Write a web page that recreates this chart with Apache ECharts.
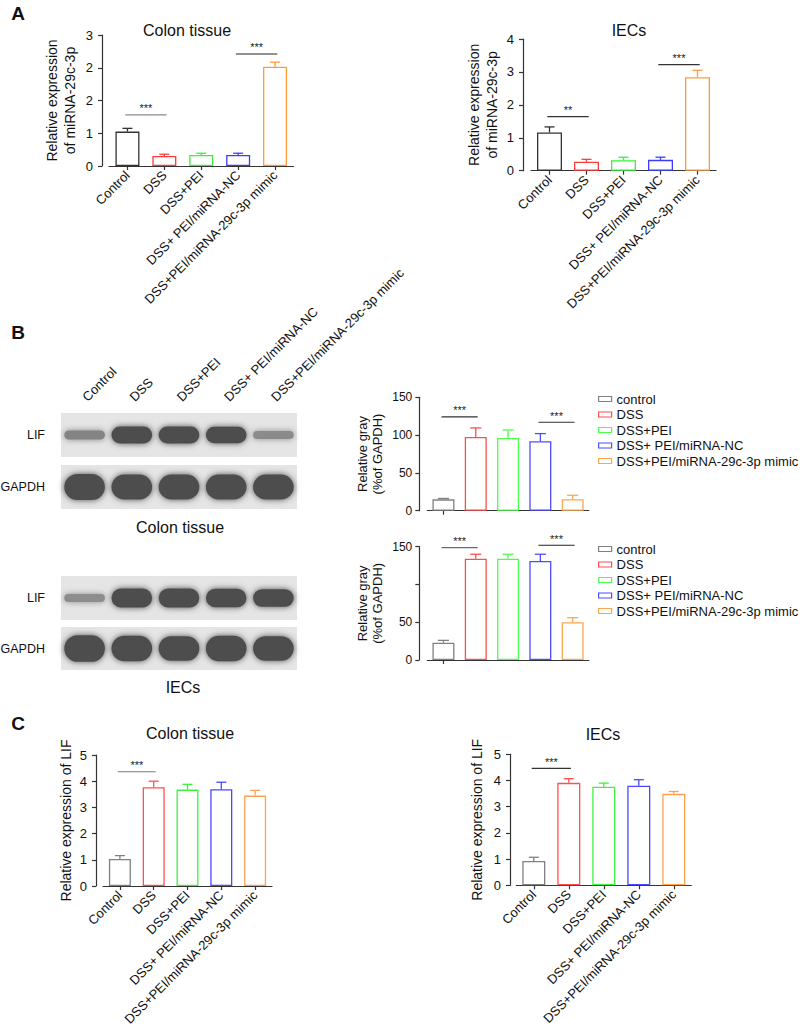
<!DOCTYPE html>
<html><head><meta charset="utf-8">
<script src="https://cdn.jsdelivr.net/npm/echarts@6/dist/echarts.min.js"></script>
<style>html,body{margin:0;padding:0;background:#fff}#c{width:800px;height:1031px}</style>
</head><body><div id="c"></div>
<script>
// ---------- data ----------
const groups = ['Control','DSS','DSS+PEI','DSS+ PEI/miRNA-NC','DSS+PEI/miRNA-29c-3p mimic'];
const legendNames = ['control','DSS','DSS+PEI','DSS+ PEI/miRNA-NC','DSS+PEI/miRNA-29c-3p mimic'];

// A: miRNA-29c-3p
const miColonMean = [1.05, 0.305, 0.335, 0.335, 3.03];
const miColonSD   = [0.10, 0.055, 0.055, 0.055, 0.14];
const miColonTicks = ['0','1','2','2','3'];
const miIECMean = [1.16, 0.27, 0.32, 0.33, 2.84];
const miIECSD   = [0.17, 0.075, 0.09, 0.08, 0.21];
const miIECTicks = ['0','1','2','3','4'];

// B: relative gray
const grayColonMean = [15, 97.6, 96.2, 91.8, 15.1];
const grayColonSD   = [1.2, 11.9, 10.6, 10.2, 5.3];
const grayIECMean = [23, 134, 134, 131, 50];
const grayIECSD   = [3, 6, 6, 9, 6];
const grayTicksUpper = ['0','50','100','150'];
const grayTicksLower = ['0','50','','150'];

// C: LIF
const lifColonMean = [1.03, 3.77, 3.68, 3.69, 3.45];
const lifColonSD   = [0.13, 0.23, 0.20, 0.27, 0.20];
const lifIECMean = [0.93, 3.91, 3.76, 3.80, 3.49];
const lifIECSD   = [0.14, 0.16, 0.14, 0.23, 0.09];
const lifTicks = ['0','1','2','3','4','5'];

// significance: [from group, to group, level, label]
const sigMiColon = [[0,1,1.56,'***'],[3,4,3.42,'***']];
const sigMiIEC   = [[0,1,1.64,'**'],[3,4,3.22,'***']];
const sigGrayColon = [[0,1,124,'***'],[3,4,117,'***']];
const sigGrayIEC   = [[0,1,148.7,'***'],[3,4,151.9,'***']];
const sigLifColon = [[0,1,4.36,'***']];
const sigLifIEC   = [[0,1,4.46,'***']];

// western blot band densities (relative)
const blotColonLIF   = [0.17, 0.53, 0.53, 0.50, 0.13];
const blotColonGAPDH = [0.95, 0.90, 0.90, 0.90, 0.90];
const blotIECLIF     = [0.12, 0.62, 0.62, 0.60, 0.55];
const blotIECGAPDH   = [1.00, 0.95, 0.90, 0.95, 0.90];

// ---------- build ----------
const FONT = 'Liberation Sans, Arial, sans-serif';
const AX = '#333';
const palA = ['#333333','#ff3b3b','#3bef3b','#3b3bff','#ff9a3b'];
const palB = ['#808080','#ff4d4d','#4dff4d','#4d4dff','#ffa64d'];
const palC = ['#808080','#ff5050','#40f040','#4848ff','#ffa050'];

const grids=[], xAxes=[], yAxes=[], series=[], legends=[];

function addChart(cfg){
  const gi = grids.length;
  grids.push({left:cfg.left, top:cfg.top, width:cfg.width, height:cfg.height, outerBoundsMode:'none'});
  xAxes.push({
    gridIndex:gi, type:'category', data:groups, boundaryGap:true,
    axisLine:{show:true, lineStyle:{color:AX, width:1.2}},
    axisTick:{show:true, alignWithLabel:true, length:4, lineStyle:{color:AX, width:1.2}},
    splitLine:{show:false},
    axisLabel: cfg.xLabels ? {show:true, interval:0, rotate:45, margin:7, fontSize:13, color:'#111', fontFamily:FONT, hideOverlap:false} : {show:false}
  });
  yAxes.push({
    gridIndex:gi, type:'value', min:0, max:cfg.max, interval:cfg.interval, offset:cfg.offset,
    axisLine:{show:true, lineStyle:{color:AX, width:1.2}},
    axisTick:{show:true, length:4, lineStyle:{color:AX, width:1.2}},
    splitLine:{show:false},
    axisLabel:{show:true, margin:cfg.labelMargin, fontSize:cfg.tickFont, color:'#111', fontFamily:FONT,
      formatter:(v)=>{const t = cfg.ticks[Math.round(v/cfg.interval)]; return t===undefined?'':t;}},
    name:cfg.name, nameLocation:'middle', nameGap:cfg.nameGap,
    nameTextStyle:{fontSize:cfg.nameFont, lineHeight:cfg.nameLH, color:'#111', fontFamily:FONT}
  });
  const pal = cfg.palette;
  if (cfg.legendTop !== undefined){
    cfg.mean.forEach((m,i)=>{
      series.push({type:'bar', name:legendNames[i], xAxisIndex:gi, yAxisIndex:gi, barWidth:cfg.barWidth, barGap:'-100%',
        data: cfg.mean.map((v,j)=> j===i ? v : '-'), silent:true, animation:false,
        itemStyle:{color:'#ffffff', borderColor:pal[i], borderWidth:1.3}});
    });
    legends.push({orient:'vertical', left:593, top:cfg.legendTop, padding:5, itemWidth:13, itemHeight:5, itemGap:2.5,
      icon:'rect', selectedMode:false, data:legendNames,
      textStyle:{fontSize:13, color:'#111', fontFamily:FONT, lineHeight:13},
      itemStyle:{borderWidth:1.2}});
  } else {
    series.push({type:'bar', xAxisIndex:gi, yAxisIndex:gi, barWidth:cfg.barWidth, silent:true, animation:false,
      data: cfg.mean.map((v,i)=>({value:v, itemStyle:{color:'#ffffff', borderColor:pal[i], borderWidth:1.3}}))});
  }
  // error bars
  series.push({type:'custom', xAxisIndex:gi, yAxisIndex:gi, z:5, silent:true, animation:false,
    data: cfg.mean.map((v,i)=>[i, v, cfg.sd[i]]), encode:{x:0, y:1},
    renderItem:(params, api)=>{
      const i = api.value(0), v = api.value(1), e = api.value(2);
      const p0 = api.coord([i, v]), p1 = api.coord([i, v+e]);
      const col = pal[params.dataIndex], h = cfg.cap/2;
      return {type:'group', children:[
        {type:'line', shape:{x1:p0[0], y1:p0[1], x2:p1[0], y2:p1[1]}, style:{stroke:col, lineWidth:1.3}},
        {type:'line', shape:{x1:p1[0]-h, y1:p1[1], x2:p1[0]+h, y2:p1[1]}, style:{stroke:col, lineWidth:1.3}}
      ]};
    }});
  // significance
  const sigCols = cfg.sigColors || [];
  series.push({type:'custom', xAxisIndex:gi, yAxisIndex:gi, z:6, silent:true, animation:false, clip:false,
    data: cfg.sig.map(s=>[s[0], s[2]]), encode:{x:0, y:1},
    renderItem:(params, api)=>{
      const s = cfg.sig[params.dataIndex];
      const a = api.coord([s[0], s[2]]), b = api.coord([s[1], s[2]]);
      const mid = (a[0]+b[0])/2, half = (b[0]-a[0])*0.56;
      return {type:'group', children:[
        {type:'line', shape:{x1:mid-half, y1:a[1], x2:mid+half, y2:a[1]}, style:{stroke:sigCols[params.dataIndex]||'#333', lineWidth:1.2}},
        {type:'text', x:mid, y:a[1]-1, style:{text:s[3], align:'center', verticalAlign:'bottom', fontSize:11, fill:'#222', fontFamily:FONT}}
      ]};
    }});
}

function addBlot(top, height, dens, rowName, showLanes){
  const gi = grids.length;
  grids.push({left:61, top:top, width:236, height:height, show:true, backgroundColor:'#e5e5e5', borderWidth:0, outerBoundsMode:'none'});
  xAxes.push({gridIndex:gi, type:'category', data:groups, position:'top', boundaryGap:true,
    axisLine:{show:false}, axisTick:{show:false}, splitLine:{show:false},
    axisLabel: showLanes ? {show:true, interval:0, rotate:-45, margin:14, fontSize:13, color:'#111', fontFamily:FONT, hideOverlap:false} : {show:false}});
  yAxes.push({gridIndex:gi, type:'category', data:[rowName], axisLine:{show:false}, axisTick:{show:false}, splitLine:{show:false},
    axisLabel:{show:true, margin:16, fontSize:12.5, color:'#111', fontFamily:FONT}});
  series.push({type:'custom', xAxisIndex:gi, yAxisIndex:gi, silent:true, animation:false,
    data: dens.map((d,i)=>[i, 0, d]), encode:{x:0, y:1},
    renderItem:(params, api)=>{
      const c = api.coord([api.value(0), 0]);
      const bw = api.size([1, 0])[0];
      const d = api.value(2);
      const th = height*(0.12 + 0.5*d), w = bw*0.86;
      const g = Math.round(205 - 127*Math.min(1, 0.35 + d*1.3));
      const col = 'rgb('+g+','+g+','+g+')';
      return {type:'rect', shape:{x:c[0]-w/2, y:c[1]-th/2, width:w, height:th, r:th/2},
        style:{fill:col, shadowBlur:6, shadowColor:col}};
    }});
}

const nameMi = 'Relative expression\nof miRNA-29c-3p';
const nameGray = 'Relative gray\n(%of GAPDH)';
const nameLif = 'Relative expression of LIF';

addChart({left:109, top:35, width:184.5, height:131, offset:7, max:4, interval:1, ticks:miColonTicks, tickFont:13, labelMargin:9,
  name:nameMi, nameGap:23, nameFont:14, nameLH:18, barWidth:24, cap:10, palette:palA, xLabels:true,
  mean:miColonMean, sd:miColonSD, sig:sigMiColon, sigColors:['#8a8a8a','#222']});
addChart({left:531, top:39, width:185, height:131.7, offset:8, max:4, interval:1, ticks:miIECTicks, tickFont:13, labelMargin:9,
  name:nameMi, nameGap:22, nameFont:14, nameLH:18, barWidth:25, cap:10, palette:palA, xLabels:true,
  mean:miIECMean, sd:miIECSD, sig:sigMiIEC});
addChart({left:427.3, top:397.3, width:161.5, height:113.4, offset:8, max:150, interval:50, ticks:grayTicksUpper, tickFont:12, labelMargin:7,
  name:nameGray, nameGap:34, nameFont:13, nameLH:15, barWidth:22, cap:11, palette:palB, xLabels:false, legendTop:387.5,
  mean:grayColonMean, sd:grayColonSD, sig:sigGrayColon});
addChart({left:427.3, top:546.7, width:161.5, height:113.3, offset:8, max:150, interval:50, ticks:grayTicksLower, tickFont:12, labelMargin:7,
  name:nameGray, nameGap:34, nameFont:13, nameLH:15, barWidth:22, cap:11, palette:palB, xLabels:false, legendTop:537.5,
  mean:grayIECMean, sd:grayIECSD, sig:sigGrayIEC, sigColors:['#6a6a6a','#222']});
addChart({left:103, top:755, width:169, height:131, offset:7, max:5, interval:1, ticks:lifTicks, tickFont:13, labelMargin:9,
  name:nameLif, nameGap:22, nameFont:14, nameLH:17, barWidth:22, cap:10, palette:palC, xLabels:true,
  mean:lifColonMean, sd:lifColonSD, sig:sigLifColon, sigColors:['#7a7a7a']});
addChart({left:516.3, top:754.3, width:175, height:131, offset:6.3, max:5, interval:1, ticks:lifTicks, tickFont:13, labelMargin:9,
  name:nameLif, nameGap:25, nameFont:14, nameLH:17, barWidth:23, cap:10, palette:palC, xLabels:true,
  mean:lifIECMean, sd:lifIECSD, sig:sigLifIEC});

addBlot(413, 44, blotColonLIF, 'LIF', true);
addBlot(465, 44, blotColonGAPDH, 'GAPDH', false);
addBlot(576, 44, blotIECLIF, 'LIF', false);
addBlot(627, 43, blotIECGAPDH, 'GAPDH', false);

function txt(t, x, y, size, bold){
  return {type:'text', x:x, y:y, silent:true, style:{text:t, fontSize:size, fontWeight:bold?'bold':'normal',
    fontFamily:FONT, fill:'#111', align:'center', verticalAlign:'middle'}};
}
const graphics = [
  txt('A', 18, 13, 19, true), txt('B', 18, 332, 19, true), txt('C', 18, 723, 19, true),
  txt('Colon tissue', 187, 30, 16), txt('IECs', 629, 30, 16),
  txt('Colon tissue', 180, 527, 16), txt('IECs', 183, 687, 16),
  txt('Colon tissue', 190, 733, 16), txt('IECs', 603, 734, 16)
];

const chart = echarts.init(document.getElementById('c'), null, {renderer:'svg'});
chart.setOption({
  animation:false, backgroundColor:'#ffffff',
  textStyle:{fontFamily:FONT},
  grid:grids, xAxis:xAxes, yAxis:yAxes, series:series, legend:legends, graphic:graphics
});
</script></body></html>
